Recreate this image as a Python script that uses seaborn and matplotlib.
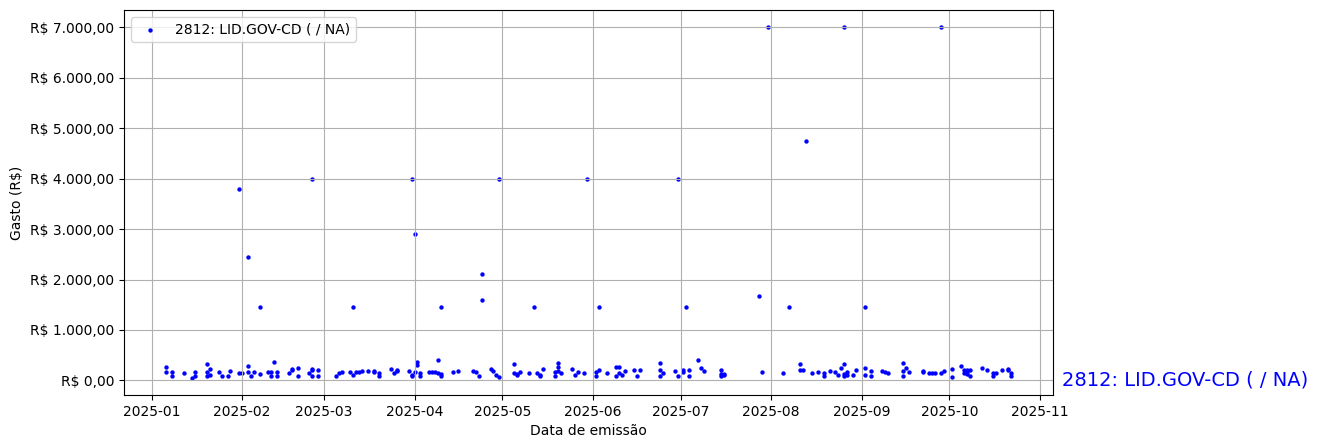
import matplotlib
matplotlib.use("Agg")
import matplotlib.pyplot as plt
import matplotlib.dates as mdates
import matplotlib.transforms as mtransforms
from matplotlib.ticker import FuncFormatter
import pandas as pd
import seaborn as sns

serie = "2812: LID.GOV-CD ( / NA)"

# datas de emissão e gastos
datas = [
    "2025-01-06", "2025-01-06", "2025-01-08", "2025-01-08", "2025-01-12", "2025-01-15",
    "2025-01-16", "2025-01-16", "2025-01-20", "2025-01-20", "2025-01-20", "2025-01-21",
    "2025-01-21", "2025-01-24", "2025-01-25", "2025-01-27", "2025-01-28", "2025-01-31",
    "2025-01-31", "2025-02-01", "2025-02-03", "2025-02-03", "2025-02-03", "2025-02-04",
    "2025-02-05", "2025-02-07", "2025-02-07", "2025-02-10", "2025-02-11", "2025-02-11",
    "2025-02-12", "2025-02-13", "2025-02-13", "2025-02-17", "2025-02-18", "2025-02-18",
    "2025-02-20", "2025-02-20", "2025-02-24", "2025-02-25", "2025-02-25", "2025-02-25",
    "2025-02-25", "2025-02-27", "2025-02-27",
    "2025-03-05", "2025-03-06", "2025-03-07", "2025-03-10", "2025-03-11", "2025-03-11",
    "2025-03-12", "2025-03-13", "2025-03-14", "2025-03-16", "2025-03-18", "2025-03-18",
    "2025-03-20", "2025-03-20", "2025-03-24", "2025-03-25", "2025-03-26", "2025-03-26",
    "2025-03-30", "2025-03-31", "2025-03-31", "2025-03-31", "2025-04-01",
    "2025-04-01", "2025-04-02", "2025-04-02", "2025-04-03", "2025-04-03", "2025-04-06",
    "2025-04-07", "2025-04-08", "2025-04-09", "2025-04-09", "2025-04-10", "2025-04-10",
    "2025-04-10", "2025-04-14", "2025-04-16", "2025-04-21", "2025-04-22", "2025-04-23",
    "2025-04-24", "2025-04-24", "2025-04-27", "2025-04-28", "2025-04-29", "2025-04-30",
    "2025-04-30",
    "2025-05-05", "2025-05-05", "2025-05-06", "2025-05-06", "2025-05-07", "2025-05-10",
    "2025-05-12", "2025-05-13", "2025-05-14", "2025-05-14", "2025-05-15", "2025-05-19",
    "2025-05-19", "2025-05-20", "2025-05-20", "2025-05-20", "2025-05-21", "2025-05-25",
    "2025-05-26", "2025-05-27", "2025-05-29", "2025-05-30",
    "2025-06-02", "2025-06-02", "2025-06-03", "2025-06-03", "2025-06-06", "2025-06-09",
    "2025-06-09", "2025-06-10", "2025-06-10", "2025-06-11", "2025-06-12", "2025-06-15",
    "2025-06-16", "2025-06-17", "2025-06-24", "2025-06-24", "2025-06-24", "2025-06-25",
    "2025-06-29", "2025-06-30", "2025-06-30",
    "2025-07-02", "2025-07-02", "2025-07-03", "2025-07-04", "2025-07-04", "2025-07-07",
    "2025-07-08", "2025-07-09", "2025-07-15", "2025-07-15", "2025-07-15", "2025-07-16",
    "2025-07-16", "2025-07-28", "2025-07-29", "2025-07-31",
    "2025-08-05", "2025-08-07", "2025-08-11", "2025-08-11", "2025-08-12", "2025-08-13",
    "2025-08-15", "2025-08-17", "2025-08-19", "2025-08-19", "2025-08-21", "2025-08-23",
    "2025-08-24", "2025-08-25", "2025-08-26", "2025-08-26", "2025-08-26", "2025-08-26",
    "2025-08-27", "2025-08-27", "2025-08-29", "2025-08-30",
    "2025-09-02", "2025-09-02", "2025-09-02", "2025-09-04", "2025-09-04", "2025-09-08",
    "2025-09-09", "2025-09-10", "2025-09-15", "2025-09-15", "2025-09-15", "2025-09-16",
    "2025-09-17", "2025-09-22", "2025-09-22", "2025-09-24", "2025-09-25", "2025-09-26",
    "2025-09-28", "2025-09-28", "2025-09-29",
    "2025-10-02", "2025-10-02", "2025-10-05", "2025-10-06", "2025-10-06", "2025-10-07",
    "2025-10-07", "2025-10-07", "2025-10-08", "2025-10-08", "2025-10-12", "2025-10-14",
    "2025-10-16", "2025-10-16", "2025-10-17", "2025-10-19", "2025-10-21", "2025-10-21",
    "2025-10-22", "2025-10-22",
]

gastos = [
    265, 160, 170, 80, 150, 55,
    95, 165, 330, 160, 85, 230,
    100, 170, 85, 80, 190, 3800,
    150, 150, 2450, 280, 165, 80,
    165, 120, 1450, 170, 80, 160,
    370, 165, 85, 150, 200, 225,
    80, 250, 145, 95, 200, 225,
    4000, 200, 95,
    95, 145, 160, 160, 115, 1450,
    170, 160, 180, 185, 185, 160,
    150, 80, 220, 150, 185, 200,
    185, 4000, 105, 85, 2900,
    165, 300, 370, 150, 85, 165,
    160, 170, 400, 150, 135, 80,
    1450, 170, 180, 180, 160, 95,
    2100, 1600, 220, 185, 115, 4000,
    75,
    330, 150, 135, 115, 160, 150,
    1450, 145, 115, 80, 220, 165,
    80, 345, 265, 185, 150, 220,
    100, 160, 150, 4000,
    165, 95, 200, 1450, 150, 80,
    265, 265, 150, 115, 190, 200,
    95, 200, 350, 200, 80, 150,
    190, 4000, 80,
    210, 165, 1450, 200, 80, 400,
    250, 185, 200, 135, 80, 100,
    135, 1680, 170, 7000,
    150, 1450, 320, 200, 200, 4750,
    150, 160, 145, 95, 180, 165,
    115, 250, 80, 135, 320, 7000,
    165, 100, 100, 210,
    250, 100, 1450, 80, 185, 185,
    160, 150, 185, 345, 95, 250,
    165, 185, 160, 145, 150, 150,
    150, 7000, 180,
    220, 65, 280, 200, 150, 165,
    210, 135, 210, 80, 250, 200,
    145, 80, 145, 200, 220, 200,
    150, 80,
]

df = pd.DataFrame({"data": pd.to_datetime(datas), "gasto": gastos})


def reais(v, pos):
    s = f"{v:,.2f}".replace(",", "X").replace(".", ",").replace("X", ".")
    return f"R$ {s}"


fig = plt.figure(figsize=(13.18, 4.48), dpi=100)
ax = fig.add_axes([0.094, 0.118, 0.705, 0.86])

sns.scatterplot(data=df, x="data", y="gasto", color="blue", s=10,
                linewidth=0, label=serie, ax=ax)

ax.xaxis.set_major_locator(mdates.MonthLocator())
ax.xaxis.set_major_formatter(mdates.DateFormatter("%Y-%m"))
ax.yaxis.set_major_formatter(FuncFormatter(reais))
ax.set_xlabel("Data de emissão")
ax.set_ylabel("Gasto (R$)")
ax.grid(True)
ax.legend(loc="upper left")

# rótulo da série à direita do gráfico, na altura do zero
trans = mtransforms.blended_transform_factory(ax.transAxes, ax.transData)
ax.text(1.01, 0, serie, transform=trans, color="blue", fontsize=14,
        ha="left", va="center")

fig.savefig("out.png", dpi=100)
